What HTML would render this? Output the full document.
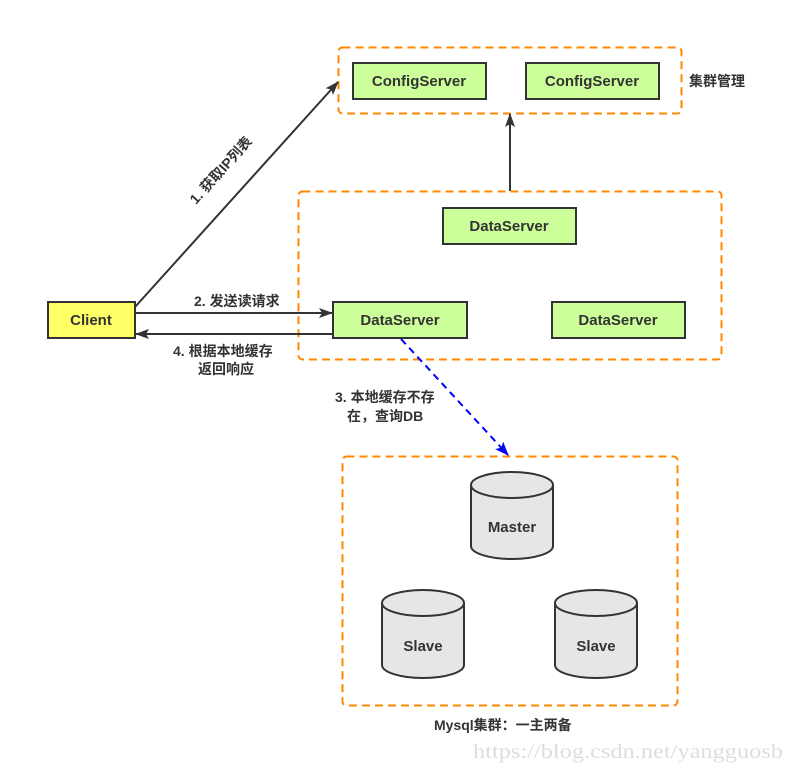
<!DOCTYPE html>
<html><head><meta charset="utf-8"><style>
html,body{margin:0;padding:0;background:#fff;}
svg{display:block;}
text{font-family:"Liberation Sans","Noto Sans CJK SC",sans-serif;font-weight:bold;fill:#333;}
</style></head><body>
<svg width="794" height="772" viewBox="0 0 794 772" xmlns="http://www.w3.org/2000/svg">
<defs>
<marker id="ah" markerWidth="14" markerHeight="10" refX="13" refY="5" orient="auto" markerUnits="userSpaceOnUse"><path d="M0,0 L14,5 L0,10 L3,5 Z" fill="#333"/></marker>
<marker id="ab" markerWidth="14" markerHeight="11" refX="13" refY="5.5" orient="auto" markerUnits="userSpaceOnUse"><path d="M0,0 L14,5.5 L0,11 L3,5.5 Z" fill="#00f"/></marker>
</defs>
<g fill="none" stroke="#f80" stroke-width="2" stroke-dasharray="8,5">
<rect x="338.5" y="47.5" width="343" height="66" rx="4"/>
<rect x="298.5" y="191.5" width="423" height="168" rx="4"/>
<rect x="342.5" y="456.5" width="335" height="249" rx="4"/>
</g>
<g fill="#ccff99" stroke="#333" stroke-width="2">
<rect x="353" y="63" width="133" height="36"/>
<rect x="526" y="63" width="133" height="36"/>
<rect x="443" y="208" width="133" height="36"/>
<rect x="333" y="302" width="134" height="36"/>
<rect x="552" y="302" width="133" height="36"/>
</g>
<rect x="48" y="302" width="87" height="36" fill="#ffff66" stroke="#333" stroke-width="2"/>
<g font-size="15" text-anchor="middle">
<text x="419" y="86">ConfigServer</text>
<text x="592" y="86">ConfigServer</text>
<text x="509" y="231">DataServer</text>
<text x="400" y="325">DataServer</text>
<text x="618" y="325">DataServer</text>
<text x="91" y="325">Client</text>
</g>
<g stroke="#333" stroke-width="2" fill="none">
<line x1="510" y1="191" x2="510" y2="114" marker-end="url(#ah)"/>
<line x1="135" y1="307" x2="338" y2="82" marker-end="url(#ah)"/>
<line x1="135" y1="313" x2="332" y2="313" marker-end="url(#ah)"/>
<line x1="333" y1="334" x2="136" y2="334" marker-end="url(#ah)"/>
</g>
<line x1="401" y1="339" x2="508" y2="455" stroke="#00f" stroke-width="2" stroke-dasharray="7,5" marker-end="url(#ab)"/>
<g stroke="#333" stroke-width="2" fill="#e6e6e6">
<path d="M471,485 V546 A41,13 0 0 0 553,546 V485"/><ellipse cx="512" cy="485" rx="41" ry="13"/>
<path d="M382,603 V665 A41,13 0 0 0 464,665 V603"/><ellipse cx="423" cy="603" rx="41" ry="13"/>
<path d="M555,603 V665 A41,13 0 0 0 637,665 V603"/><ellipse cx="596" cy="603" rx="41" ry="13"/>
</g>
<g font-size="15" text-anchor="middle">
<text x="512" y="532">Master</text>
<text x="423" y="651">Slave</text>
<text x="596" y="651">Slave</text>
</g>
<g font-size="14">
<text x="689" y="86">集群管理</text>
<text x="194" y="306">2. 发送读请求</text>
<text x="173" y="356">4. 根据本地缓存</text>
<text x="198" y="374">返回响应</text>
<text x="335" y="402">3. 本地缓存不存</text>
<text x="347" y="421">在，查询DB</text>
<text x="434" y="730">Mysql集群：一主两备</text>
<text transform="translate(196,205) rotate(-48)">1. 获取IP列表</text>
</g>
<text x="473" y="758" font-size="20" textLength="310" lengthAdjust="spacingAndGlyphs" style="font-family:'Liberation Serif',serif;font-weight:normal;fill:#ddd">https://blog.csdn.net/yangguosb</text>
</svg>
</body></html>
